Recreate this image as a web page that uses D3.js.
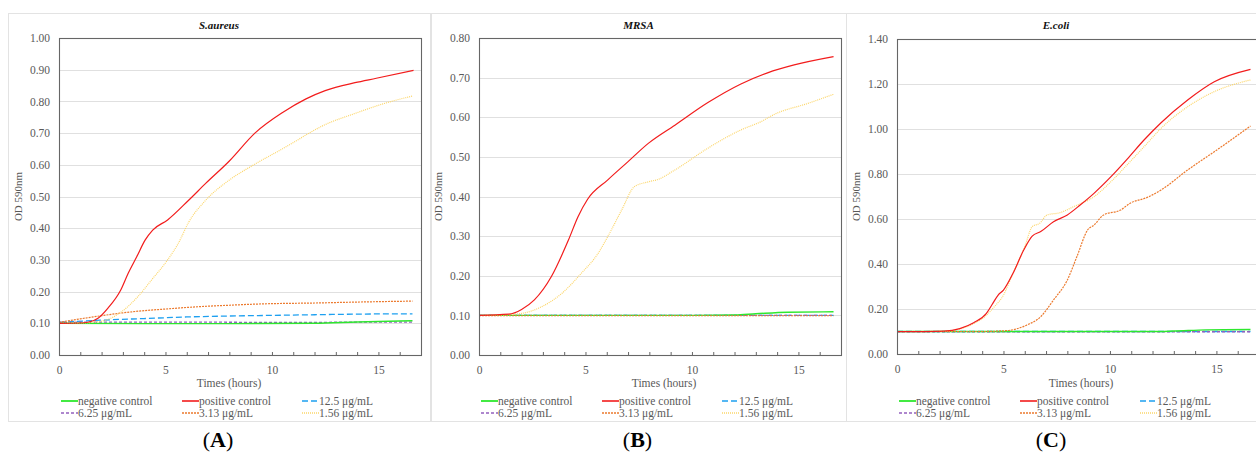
<!DOCTYPE html>
<html>
<head>
<meta charset="utf-8">
<script src="https://cdn.jsdelivr.net/npm/d3@7"></script>
<style>
  body { margin: 0; background: #fff; }
  text { font-family: "Liberation Serif", "Times New Roman", serif; }
</style>
</head>
<body>
<script>
// Series names (legend order)
var seriesNames = ["negative control", "positive control", "12.5 \u03bcg/mL", "6.25 \u03bcg/mL", "3.13 \u03bcg/mL", "1.56 \u03bcg/mL"];
var panelTitles = ["S.aureus", "MRSA", "E.coli"];
var panelLetters = ["A", "B", "C"];
var yMaxes = [1.0, 0.8, 1.4];
var yStepList = [0.1, 0.1, 0.2];
var xTickLabels = [0, 5, 10, 15];

// Panel A: S.aureus  [hours, OD]
var aNegative = [[0,0.100],[4,0.099],[8,0.099],[12,0.100],[14,0.104],[16.6,0.108]];
var aPositive = [[0,0.100],[1.0,0.101],[1.4,0.104],[1.85,0.117],[2.3,0.148],[2.9,0.205],[3.25,0.258],[3.65,0.310],[4.05,0.363],[4.4,0.394],[5.1,0.426],[6.1,0.489],[6.9,0.542],[8.0,0.612],[9.2,0.700],[10.5,0.765],[11.6,0.808],[12.5,0.834],[13.9,0.859],[14.9,0.873],[16.65,0.898]];
var a125 = [[0,0.103],[2,0.110],[4,0.115],[6,0.120],[8,0.123],[10,0.125],[12,0.127],[14,0.129],[16.6,0.130]];
var a625 = [[0,0.103],[5,0.104],[10,0.103],[16.6,0.104]];
var a313 = [[0,0.103],[1,0.114],[2,0.124],[3,0.133],[4,0.140],[5,0.145],[6,0.150],[7,0.154],[8,0.157],[9,0.160],[10,0.162],[12,0.164],[14,0.167],[16.6,0.170]];
var a156 = [[0,0.100],[1.0,0.101],[1.85,0.105],[2.4,0.115],[2.95,0.137],[3.7,0.184],[4.35,0.237],[5.1,0.300],[5.6,0.352],[6.1,0.420],[6.9,0.489],[8.0,0.552],[9.2,0.602],[10.8,0.662],[11.6,0.694],[12.35,0.722],[13.9,0.762],[15.3,0.794],[16.6,0.817]];

// Panel B: MRSA
var bNegative = [[0,0.100],[10,0.100],[12,0.101],[13,0.104],[14.5,0.108],[16.65,0.109]];
var bPositive = [[0,0.100],[1.4,0.103],[2,0.115],[2.6,0.139],[3.4,0.198],[4.2,0.290],[4.65,0.349],[5.1,0.393],[6.05,0.442],[7,0.488],[7.95,0.534],[9.2,0.580],[10.75,0.637],[12.3,0.684],[13.55,0.712],[14.8,0.732],[16.65,0.753]];
var b125 = [[0,0.100],[8,0.100],[16.65,0.100]];
var b625 = [[0,0.100],[8,0.100],[16.65,0.100]];
var b313 = [[0,0.099],[8,0.099],[16.65,0.099]];
var b156 = [[0,0.100],[1,0.101],[2,0.105],[2.95,0.122],[3.9,0.156],[4.8,0.206],[5.6,0.257],[6.05,0.299],[6.7,0.366],[7.3,0.425],[7.95,0.437],[8.4,0.443],[9.2,0.467],[10.75,0.522],[12.3,0.568],[13.25,0.589],[13.9,0.608],[15.45,0.635],[16.65,0.658]];

// Panel C: E.coli
var cNegative = [[0,0.100],[12,0.100],[13,0.102],[14.5,0.107],[16.6,0.109]];
var cPositive = [[0,0.099],[2.2,0.102],[2.95,0.113],[3.6,0.139],[4.2,0.181],[4.5,0.225],[4.75,0.262],[5,0.284],[5.45,0.359],[5.95,0.462],[6.35,0.524],[6.75,0.544],[7.35,0.588],[8,0.618],[8.6,0.662],[9.25,0.714],[10.05,0.788],[10.8,0.865],[11.6,0.951],[12.4,1.028],[13.65,1.129],[14.9,1.210],[16.6,1.265]];
var c125 = [[0,0.100],[8,0.100],[16.6,0.100]];
var c625 = [[0,0.099],[8,0.099],[16.6,0.099]];
var c313 = [[0,0.100],[4,0.100],[5.15,0.104],[6.1,0.129],[6.75,0.166],[7.35,0.240],[8,0.329],[8.45,0.433],[8.95,0.551],[9.25,0.573],[9.7,0.618],[10.5,0.640],[10.95,0.670],[11.75,0.696],[12.4,0.729],[13.65,0.818],[14.9,0.899],[16.6,1.013]];
var c156 = [[0,0.100],[2.2,0.101],[2.95,0.111],[3.6,0.135],[4.2,0.172],[4.5,0.203],[5,0.262],[5.45,0.359],[6,0.477],[6.35,0.566],[6.7,0.581],[7.05,0.618],[7.65,0.628],[8.3,0.655],[9.25,0.699],[10.05,0.766],[10.8,0.840],[11.6,0.921],[12.4,1.003],[13.65,1.099],[14.9,1.166],[16.6,1.218]];

var panelData = [
  [aNegative, aPositive, a125, a625, a313, a156],
  [bNegative, bPositive, b125, b625, b313, b156],
  [cNegative, cPositive, c125, c625, c313, c156]
];

// styles for each series
var lineStyles = [
  { color: "#2ee82e", width: 1.4, dash: null },
  { color: "#f21c1c", width: 1.2, dash: null },
  { color: "#1ea0f0", width: 1.3, dash: "6,3" },
  { color: "#9460bf", width: 1.3, dash: "3,2" },
  { color: "#ec7a2e", width: 1.2, dash: "2,1" },
  { color: "#fcd66a", width: 1.2, dash: "1,1" }
];

var svgWidth = 1256;
var svgHeight = 452;

var svg = d3.select("body")
    .append("svg")
    .attr("width", svgWidth)
    .attr("height", svgHeight);

// panel frame / plot positions
var frames = [
  { x0: 8, x1: 430, plotLeft: 59, xTitle: 229, top: 38, bottom: 355 },
  { x0: 431, x1: 846, plotLeft: 479, xTitle: 664, top: 38, bottom: 355 },
  { x0: 846, x1: 1266, plotLeft: 897, xTitle: 1081, top: 39, bottom: 354 }
];
var plotWidth = 362;

function drawPanel(i) {
    var fr = frames[i];
    var plotTop = fr.top, plotBottom = fr.bottom;
    var g = svg.append("g");

    // outer chart border
    g.append("rect")
        .attr("x", fr.x0 + 0.5)
        .attr("y", 13.5)
        .attr("width", fr.x1 - fr.x0)
        .attr("height", 408)
        .attr("fill", "none")
        .attr("stroke", "#e3e3e3")
        .attr("stroke-width", 1);

    var xScale = d3.scaleLinear()
        .domain([0, 17])
        .range([fr.plotLeft, fr.plotLeft + plotWidth]);

    var yScale = d3.scaleLinear()
        .domain([0, yMaxes[i]])
        .range([plotBottom, plotTop]);

    var yTicks = d3.range(0, yMaxes[i] + yStepList[i] / 2, yStepList[i]);

    // gridlines
    g.append("g")
        .selectAll("line")
        .data(yTicks.slice(1))
        .enter()
        .append("line")
        .attr("x1", fr.plotLeft)
        .attr("x2", fr.plotLeft + plotWidth)
        .attr("y1", d => Math.round(yScale(d)) + 0.5)
        .attr("y2", d => Math.round(yScale(d)) + 0.5)
        .attr("stroke", "#e0e0e0")
        .attr("stroke-width", 1);

    // y axis labels
    var leftAxis = d3.axisLeft(yScale)
        .tickValues(yTicks)
        .tickFormat(d3.format(".2f"))
        .tickSize(0)
        .tickPadding(9);
    var yAxisG = g.append("g")
        .attr("transform", `translate(${fr.plotLeft}, 0)`)
        .call(leftAxis);
    yAxisG.select(".domain").remove();
    yAxisG.selectAll("text")
        .attr("font-family", "Liberation Serif, serif")
        .attr("font-size", 11.5)
        .attr("fill", "#595959");

    // x axis: inward hourly ticks, labels every 5
    var bottomAxis = d3.axisBottom(xScale)
        .tickValues(d3.range(0, 18))
        .tickSizeInner(-3)
        .tickSizeOuter(0)
        .tickPadding(11)
        .tickFormat(d => xTickLabels.indexOf(d) >= 0 ? d : "");
    var xAxisG = g.append("g")
        .attr("transform", `translate(0, ${plotBottom})`)
        .call(bottomAxis);
    xAxisG.select(".domain").remove();
    xAxisG.selectAll("line").attr("stroke", "#666");
    xAxisG.selectAll("text")
        .attr("font-family", "Liberation Serif, serif")
        .attr("font-size", 11.5)
        .attr("fill", "#595959");

    // clip for lines
    g.append("clipPath")
        .attr("id", "clip" + i)
        .append("rect")
        .attr("x", fr.plotLeft)
        .attr("y", plotTop)
        .attr("width", plotWidth)
        .attr("height", plotBottom - plotTop);

    var line = d3.line()
        .x(d => xScale(d[0]))
        .y(d => yScale(d[1]))
        .curve(d3.curveMonotoneX);

    // draw flat series first, growth curves on top
    var order = [2, 3, 0, 4, 5, 1];
    order.forEach(function (s) {
        var st = lineStyles[s];
        g.append("path")
            .attr("clip-path", `url(#clip${i})`)
            .attr("d", line(panelData[i][s]))
            .attr("fill", "none")
            .attr("stroke", st.color)
            .attr("stroke-width", st.width)
            .attr("stroke-dasharray", st.dash);
    });

    // plot frame
    g.append("rect")
        .attr("x", fr.plotLeft + 0.5)
        .attr("y", plotTop + 0.5)
        .attr("width", plotWidth)
        .attr("height", plotBottom - plotTop)
        .attr("fill", "none")
        .attr("stroke", "#666")
        .attr("stroke-width", 1.1);

    // title
    g.append("text")
        .attr("x", (fr.x0 + fr.x1) / 2)
        .attr("y", 29)
        .attr("text-anchor", "middle")
        .attr("font-size", 11)
        .attr("font-weight", "bold")
        .attr("font-style", "italic")
        .attr("fill", "#111")
        .text(panelTitles[i]);

    // axis titles
    g.append("text")
        .attr("x", fr.xTitle)
        .attr("y", 387)
        .attr("text-anchor", "middle")
        .attr("font-size", 11.5)
        .attr("fill", "#595959")
        .text("Times (hours)");

    g.append("text")
        .attr("transform", `translate(${fr.plotLeft - 37}, ${(plotTop + plotBottom) / 2}) rotate(-90)`)
        .attr("text-anchor", "middle")
        .attr("font-size", 11)
        .attr("fill", "#595959")
        .text("OD 590nm");

    // legend
    var colX = [fr.plotLeft + 2, fr.plotLeft + 123, fr.plotLeft + 243];
    var rowY = [401, 413];
    seriesNames.forEach(function (name, s) {
        var lx = colX[s % 3];
        var ly = rowY[Math.floor(s / 3)];
        var st = lineStyles[s];
        g.append("line")
            .attr("x1", lx)
            .attr("x2", lx + 17)
            .attr("y1", ly)
            .attr("y2", ly)
            .attr("stroke", st.color)
            .attr("stroke-width", st.width + 0.4)
            .attr("stroke-dasharray", st.dash);
        g.append("text")
            .attr("x", lx + 17)
            .attr("y", ly + 4)
            .attr("font-size", 11.5)
            .attr("fill", "#595959")
            .text(name);
    });

    // panel letter
    var lt = g.append("text")
        .attr("x", (fr.x0 + fr.x1) / 2 - (i == 2 ? 5 : 1))
        .attr("y", 447)
        .attr("text-anchor", "middle")
        .attr("font-size", 22)
        .attr("fill", "#000");
    lt.append("tspan").text("(");
    lt.append("tspan").attr("font-weight", "bold").text(panelLetters[i]);
    lt.append("tspan").text(")");
}

for (var i = 0; i < 3; i++) {
    drawPanel(i);
}
</script>
</body>
</html>
